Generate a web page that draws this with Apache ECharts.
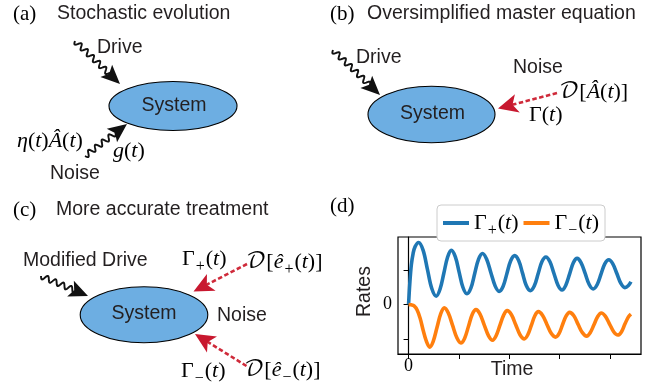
<!DOCTYPE html>
<html>
<head>
<meta charset="utf-8">
<script src="https://cdn.jsdelivr.net/npm/echarts@6/dist/echarts.min.js"></script>
<style>
  html, body { margin: 0; padding: 0; background: #fff; }
  #main { width: 660px; height: 387px; }
</style>
</head>
<body>
<div id="main"></div>
<script>
// ---- Panel (d): damped oscillating rates ----
const seriesNames = ['Γ_+(t)', 'Γ_−(t)'];

const timePlus = [0.00, 0.025, 0.055, 0.09, 0.13, 0.20,
  0.29, 0.375, 0.46, 0.55, 0.625, 0.70, 0.775, 0.85,
  0.93, 1.005, 1.08, 1.16, 1.24, 1.315, 1.39, 1.47,
  1.55, 1.635, 1.72, 1.80, 1.88, 1.955, 2.03, 2.11,
  2.19, 2.265, 2.34, 2.42, 2.50, 2.575, 2.65, 2.73,
  2.81, 2.89, 2.97, 3.05, 3.125, 3.20, 3.275, 3.35,
  3.43, 3.51, 3.59, 3.67, 3.75, 3.825, 3.90, 3.98,
  4.06, 4.14, 4.22, 4.30, 4.37, 4.42];
const ratePlus = [0.00, 0.62, 1.15, 1.48, 1.68, 1.80,
  1.57, 1.02, 0.47, 0.24, 0.44, 0.90, 1.37, 1.57,
  1.38, 0.94, 0.50, 0.31, 0.48, 0.90, 1.31, 1.48,
  1.32, 0.93, 0.54, 0.38, 0.53, 0.90, 1.27, 1.42,
  1.27, 0.91, 0.55, 0.40, 0.54, 0.89, 1.24, 1.38,
  1.24, 0.90, 0.56, 0.42, 0.56, 0.88, 1.21, 1.34,
  1.21, 0.90, 0.58, 0.45, 0.58, 0.88, 1.18, 1.30,
  1.18, 0.90, 0.61, 0.49, 0.55, 0.66];

const timeMinus = [0.00, 0.05, 0.11, 0.17, 0.23, 0.29, 0.35, 0.42,
  0.49, 0.565, 0.64, 0.71,
  0.79, 0.875, 0.96, 1.04, 1.115, 1.19, 1.265, 1.34,
  1.42, 1.505, 1.59, 1.67, 1.74, 1.815, 1.89, 1.96,
  2.045, 2.13, 2.215, 2.30, 2.37, 2.44, 2.51, 2.58,
  2.665, 2.75, 2.835, 2.92, 2.99, 3.06, 3.13, 3.20,
  3.285, 3.37, 3.455, 3.54, 3.61, 3.685, 3.76, 3.83,
  3.91, 3.995, 4.08, 4.16, 4.23, 4.30, 4.37, 4.42];
const rateMinus = [0.00, -0.01, -0.04, -0.16, -0.40, -0.75, -1.05, -1.24,
  -1.07, -0.67, -0.27, -0.10,
  -0.25, -0.61, -0.97, -1.12, -0.98, -0.64, -0.29, -0.15,
  -0.28, -0.60, -0.91, -1.04, -0.91, -0.61, -0.31, -0.18,
  -0.30, -0.59, -0.88, -1.00, -0.88, -0.61, -0.33, -0.21,
  -0.32, -0.58, -0.84, -0.95, -0.85, -0.59, -0.34, -0.23,
  -0.33, -0.58, -0.82, -0.92, -0.82, -0.59, -0.35, -0.25,
  -0.34, -0.57, -0.80, -0.89, -0.80, -0.57, -0.36, -0.28];

const xTickValues = [0, 1, 2, 3, 4];
const xTickLabels = [0];
const yTickValues = [-1, 0, 1];
const yTickLabels = [0];

// ---- fonts & colours ----
const SANS = '"Liberation Sans", Arial, Helvetica, sans-serif';
const SERIF = '"Liberation Serif", "Times New Roman", serif';
const CAL = '"DejaVu Math TeX Gyre", "Noto Sans Math", "DejaVu Serif", "DejaVu Sans", serif';
const INK = '#231f20';
const BLOB = '#6daee2';
const RED = '#c8182f';
const BLUE = '#1f77b4';
const ORANGE = '#ff7f0e';
const MATH_SIZE = 22;

// Turn a small math markup ("Γ_+(t)") into rich-text tokens:
// lowercase / Latin letters italic, "_x" subscript, the rest upright.
function mathRich(src) {
  const chars = Array.from(src);
  let out = '';
  for (let k = 0; k < chars.length; k++) {
    const c = chars[k];
    if (c === '_') { out += '{s|' + chars[++k] + '}'; continue; }
    if (c === '𝒟') { out += '{c|' + c + '}'; continue; }
    if (/[a-zA-Zα-ωÂê]/.test(c)) { out += '{i|' + c + '}'; continue; }
    out += '{r|' + c + '}';
  }
  return out;
}
function mathStyles(size, key) {
  const col = {};
  col[key] = '#000';
  const lh = size + 2;
  return {
    r: Object.assign({ fontFamily: SERIF, fontSize: size, lineHeight: lh }, col),
    i: Object.assign({ fontFamily: SERIF, fontStyle: 'italic', fontSize: size, lineHeight: lh }, col),
    c: Object.assign({ fontFamily: CAL, fontSize: size, lineHeight: lh }, col),
    // subscript: smaller, pushed down by an uneven top padding
    s: Object.assign({ fontFamily: SERIF, fontSize: Math.round(size * 0.72), lineHeight: 6,
      padding: [16, 1, 0, 1] }, col)
  };
}

function sansText(x, y, str, align) {
  return {
    type: 'text', x: x, y: y, z: 10,
    style: {
      text: str, font: '19.5px ' + SANS, fill: INK,
      align: align || 'left', textAlign: align || 'left',
      verticalAlign: 'middle', textVerticalAlign: 'middle'
    }
  };
}
function mathText(x, y, src) {
  return {
    type: 'text', x: x, y: y, z: 10,
    style: {
      text: mathRich(src), rich: mathStyles(MATH_SIZE, 'fill'), fill: '#000',
      font: MATH_SIZE + 'px ' + SERIF,
      align: 'left', textAlign: 'left',
      verticalAlign: 'middle', textVerticalAlign: 'middle'
    }
  };
}
// Upright serif panel tags: (a), (b), ...
function panelTag(x, y, str) {
  return {
    type: 'text', x: x, y: y, z: 10,
    style: {
      text: str, font: '21px ' + SERIF, fill: '#000',
      align: 'left', textAlign: 'left',
      verticalAlign: 'middle', textVerticalAlign: 'middle'
    }
  };
}
function blob(cx, cy, rx, ry) {
  return {
    type: 'ellipse', z: 5,
    shape: { cx: cx, cy: cy, rx: rx, ry: ry },
    style: { fill: BLOB, stroke: '#000', lineWidth: 1.1 }
  };
}

// Arrow with a stealth-shaped head; the shaft is either a squiggle (drive / noise)
// or a dashed straight line (dissipator).
function arrow(x0, y0, x1, y1, o) {
  const dx = x1 - x0, dy = y1 - y0, len = Math.hypot(dx, dy);
  const ux = dx / len, uy = dy / len, nx = -uy, ny = ux;
  const L = o.head, W = o.half, notch = o.notch;
  const bx = x1 - ux * L, by = y1 - uy * L;
  const head = [
    [x1, y1],
    [bx + nx * W, by + ny * W],
    [x1 - ux * (L - notch), y1 - uy * (L - notch)],
    [bx - nx * W, by - ny * W]
  ];
  const shaftLen = len - L + notch + 1;
  const els = [];
  if (o.wavy) {
    const pts = [];
    for (let s = 0; s <= shaftLen; s += 0.5) {
      const off = o.amp * Math.sin(2 * Math.PI * s / o.wave);
      pts.push([x0 + ux * s + nx * off, y0 + uy * s + ny * off]);
    }
    els.push({ type: 'polyline', z: 8, shape: { points: pts },
      style: { stroke: o.color, lineWidth: o.width, fill: null, lineJoin: 'round' } });
  } else {
    els.push({ type: 'line', z: 8,
      shape: { x1: x0, y1: y0, x2: x0 + ux * shaftLen, y2: y0 + uy * shaftLen },
      style: { stroke: o.color, lineWidth: o.width, lineDash: o.dash } });
  }
  els.push({ type: 'polygon', z: 9, shape: { points: head },
    style: { fill: o.headColor || o.color, stroke: null } });
  return els;
}
const DRIVE = { wavy: true, amp: 2.8, wave: 8.5, width: 1.9, color: '#111', head: 19, half: 8.5, notch: 4 };
const DISS = { wavy: false, width: 2.6, dash: [4.5, 2.5], color: '#cf2a3a', headColor: RED, head: 20, half: 9.5, notch: 5 };

const graphics = [].concat(
  // (a)
  panelTag(13, 14, '(a)'),
  sansText(57, 14, 'Stochastic evolution'),
  blob(173, 106, 64, 24.5),
  sansText(174, 106, 'System', 'center'),
  arrow(75, 41, 120, 84, DRIVE),
  sansText(97, 48, 'Drive'),
  arrow(85, 156, 127, 124, DRIVE),
  mathText(17, 141, 'η(t)Â(t)'),
  mathText(113, 151, 'g(t)'),
  sansText(50, 174, 'Noise'),
  // (b)
  panelTag(330, 14, '(b)'),
  sansText(367, 14, 'Oversimplified master equation'),
  blob(431.5, 114.5, 63.5, 28.3),
  sansText(432.5, 113.5, 'System', 'center'),
  arrow(333, 50, 380, 95, DRIVE),
  sansText(356, 58, 'Drive'),
  sansText(513, 67.5, 'Noise'),
  arrow(557, 93, 498, 108.5, DISS),
  mathText(559, 92, '𝒟[Â(t)]'),
  mathText(529, 115, 'Γ(t)'),
  // (c)
  panelTag(13, 210, '(c)'),
  sansText(56, 210, 'More accurate treatment'),
  blob(144, 314.7, 63.8, 28),
  sansText(144, 313.5, 'System', 'center'),
  arrow(41, 276, 88, 296, DRIVE),
  sansText(23, 261, 'Modified Drive'),
  sansText(217, 316, 'Noise'),
  arrow(247, 264, 193.5, 291.5, DISS),
  arrow(246.5, 366, 195, 334, DISS),
  mathText(182, 259, 'Γ_+(t)'),
  mathText(246, 262, '𝒟[ê_+(t)]'),
  mathText(181, 371, 'Γ_−(t)'),
  mathText(244, 370, '𝒟[ê_−(t)]'),
  // (d)
  panelTag(330, 206, '(d)')
);

const chart = echarts.init(document.getElementById('main'), null, { renderer: 'canvas' });
chart.setOption({
  animation: false,
  backgroundColor: '#fff',
  graphic: { elements: graphics },
  grid: {
    left: 398, top: 237, width: 243, height: 117,
    show: true, borderColor: '#000', borderWidth: 1.2, backgroundColor: 'transparent'
  },
  legend: {
    left: 437, top: 205,
    data: seriesNames,
    icon: 'rect', itemWidth: 26, itemHeight: 4, itemGap: 5,
    padding: [2, 6, 2, 6],
    borderColor: '#cccccc', borderWidth: 1, borderRadius: 4,
    backgroundColor: '#fff',
    formatter: function (name) { return mathRich(name); },
    textStyle: { rich: mathStyles(MATH_SIZE, 'color') }
  },
  xAxis: {
    type: 'value', min: -0.21, max: 4.62,
    axisLine: { show: true, onZero: false, lineStyle: { color: '#000', width: 1.2 } },
    axisTick: { show: true, customValues: xTickValues, length: 5, lineStyle: { color: '#000', width: 1 } },
    axisLabel: { customValues: xTickLabels, margin: 3, color: '#000', fontFamily: SERIF, fontSize: 18 },
    splitLine: { show: false },
    name: 'Time', nameLocation: 'middle', nameGap: 6, nameMoveOverlap: false,
    nameTextStyle: { fontFamily: SANS, fontSize: 19.5, color: INK, padding: [0, 15, 0, 0] }
  },
  yAxis: {
    type: 'value', min: -1.44, max: 1.96,
    axisLine: { show: true, lineStyle: { color: '#000', width: 1.2 } },
    axisTick: { show: true, customValues: yTickValues, length: 5, lineStyle: { color: '#000', width: 1 } },
    axisLabel: { customValues: yTickLabels, margin: 6, color: '#000', fontFamily: SERIF, fontSize: 18 },
    splitLine: { show: false },
    name: 'Rates', nameLocation: 'middle', nameGap: 23, nameRotate: 90, nameMoveOverlap: false,
    nameTextStyle: { fontFamily: SANS, fontSize: 19.5, color: INK, padding: [0, 0, 0, 8] }
  },
  series: [
    {
      name: seriesNames[0], type: 'line', smooth: 0.35, showSymbol: false,
      lineStyle: { color: BLUE, width: 3.6 }, itemStyle: { color: BLUE },
      data: timePlus.map((t, i) => [t, ratePlus[i]])
    },
    {
      name: seriesNames[1], type: 'line', smooth: 0.35, showSymbol: false,
      lineStyle: { color: ORANGE, width: 3.6 }, itemStyle: { color: ORANGE },
      data: timeMinus.map((t, i) => [t, rateMinus[i]])
    }
  ]
});
</script>
</body>
</html>
